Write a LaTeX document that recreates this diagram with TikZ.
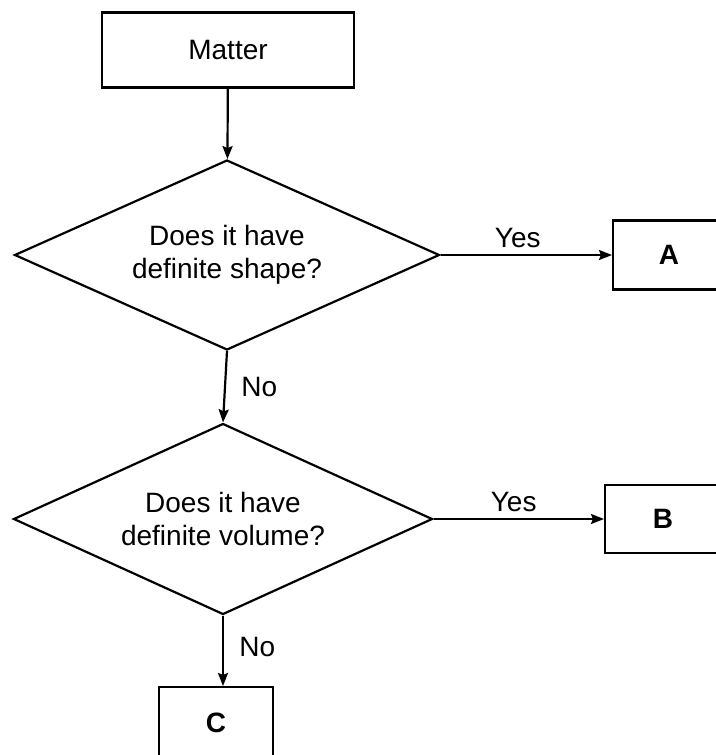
\documentclass[tikz,border=0pt]{standalone}
\usepackage{fontspec}
\setmainfont{Liberation Sans}
\usetikzlibrary{shapes.geometric,arrows.meta}
\begin{document}
\begin{tikzpicture}[x=1pt,y=-1pt,
		txt/.style={font=\fontsize{28}{33}\selectfont},
		box/.style={txt,draw,line width=2.2pt,inner sep=0pt},
		query/.style={txt,draw,diamond,aspect=2.22,line width=2.2pt,inner sep=0pt,align=center},
		flow/.style={line width=2.2pt,-{Stealth[length=13pt,width=10pt,inset=2pt]}}]
						\useasboundingbox (0,0) rectangle (715,755);
						\pgfmathsetmacro{\ya}{255}
						\pgfmathsetmacro{\yb}{519}

						\node[box,minimum width=252pt,minimum height=75pt] (matter) at (228,50) {Matter};

						\node[query,minimum width=425pt,minimum height=190pt] (shape) at (227,\ya) {Does it have\\definite shape?};
						\node[box,font=\fontsize{28}{33}\selectfont\bfseries,minimum width=112pt,minimum height=69pt,anchor=west] (A) at (612,\ya) {A};

						\node[query,minimum width=419pt,minimum height=191pt] (volume) at (223,\yb) {Does it have\\definite volume?};
						\node[box,font=\fontsize{28}{33}\selectfont\bfseries,minimum width=116pt,minimum height=68pt,anchor=west] (B) at (604,\yb) {B};

						\node[box,font=\fontsize{28}{33}\selectfont\bfseries,minimum width=114pt,minimum height=72pt,anchor=north] (C) at (216,686) {C};

						\draw [flow] (matter) -- (shape);
						\draw [flow] (shape.east) -- node[txt,above,pos=0.45,yshift=3pt] (yesA) {Yes} (A.west);
						\draw [flow] (shape.south) -- node[txt,right,xshift=12pt] (noA) {No} (volume.north);
						\draw [flow] (volume.east) -- node[txt,above,pos=0.47,yshift=3pt] (yesB) {Yes} (B.west);
						\draw [flow] (volume.south) -- node[txt,right,pos=0.45,xshift=12pt] (noB) {No} (volume.south |- C.north);
					\end{tikzpicture}
\end{document}
